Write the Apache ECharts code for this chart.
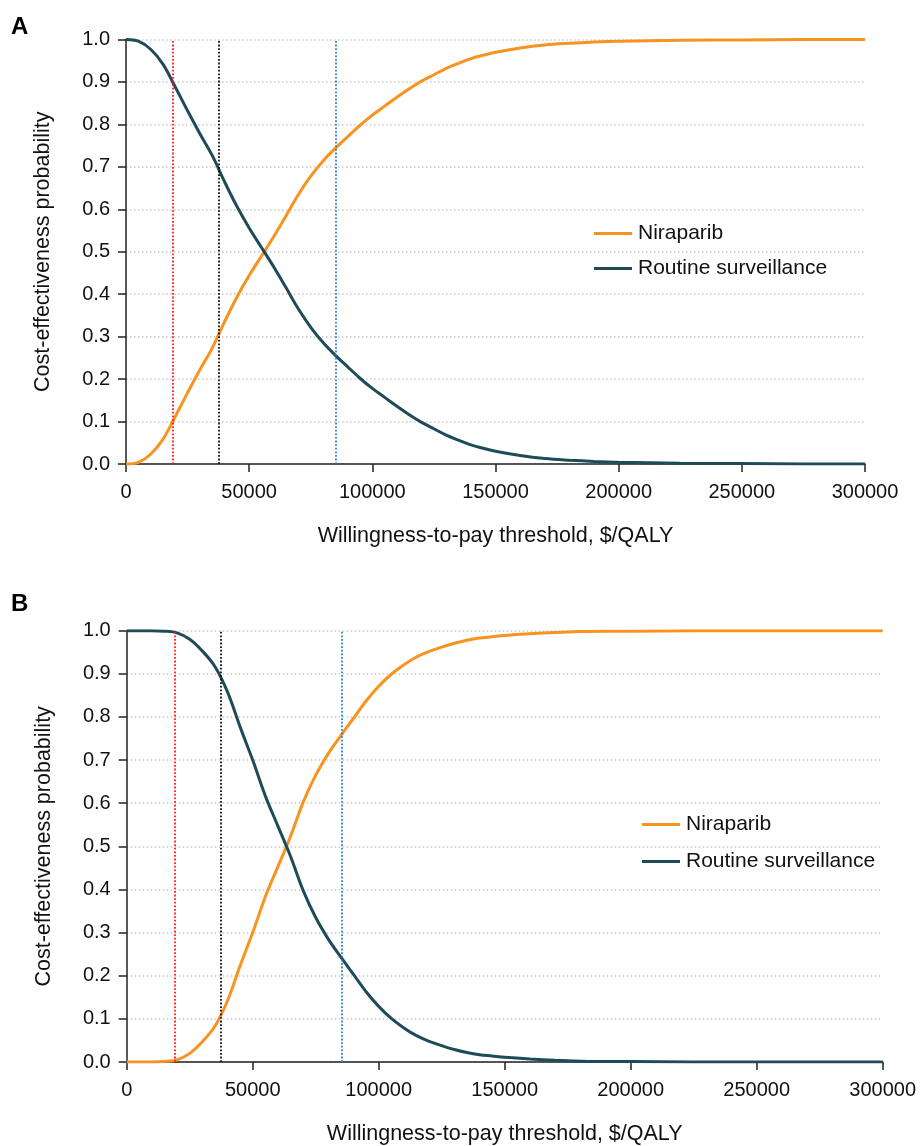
<!DOCTYPE html>
<html>
<head>
<meta charset="utf-8">
<script src="https://cdn.jsdelivr.net/npm/echarts@6/dist/echarts.min.js"></script>
<style>
  html, body { margin: 0; padding: 0; background: #fff; }
  #ceac { width: 921px; height: 1146px; }
</style>
</head>
<body>
<div id="ceac"></div>
<script>
// willingness-to-pay grid ($/QALY)
const wtp = [0, 5000, 10000, 15000, 20000, 25000, 30000, 35000, 40000, 45000,
  50000, 55000, 60000, 65000, 70000, 75000, 80000, 85000, 90000, 95000,
  100000, 105000, 110000, 115000, 120000, 125000, 130000, 135000, 140000, 145000,
  150000, 160000, 170000, 180000, 190000, 200000, 225000, 250000, 275000, 300000];

// panel A
const niraparibA = [0.000, 0.004, 0.023, 0.058, 0.112, 0.168, 0.222, 0.273, 0.335, 0.393,
  0.444, 0.490, 0.536, 0.585, 0.635, 0.678, 0.714, 0.744, 0.771, 0.798,
  0.822, 0.843, 0.864, 0.884, 0.902, 0.917, 0.932, 0.944, 0.955, 0.963,
  0.970, 0.980, 0.987, 0.991, 0.994, 0.996, 0.998, 0.999, 1.000, 1.000];
const routineA = [1.000, 0.996, 0.977, 0.942, 0.888, 0.832, 0.778, 0.727, 0.665, 0.607,
  0.556, 0.510, 0.464, 0.415, 0.365, 0.322, 0.286, 0.256, 0.229, 0.202,
  0.178, 0.157, 0.136, 0.116, 0.098, 0.083, 0.068, 0.056, 0.045, 0.037,
  0.030, 0.020, 0.013, 0.009, 0.006, 0.004, 0.002, 0.001, 0.000, 0.000];

// panel B
const niraparibB = [0.000, 0.000, 0.000, 0.001, 0.005, 0.020, 0.047, 0.083, 0.142, 0.223,
  0.300, 0.383, 0.453, 0.523, 0.602, 0.665, 0.715, 0.757, 0.797, 0.837,
  0.871, 0.899, 0.921, 0.939, 0.952, 0.962, 0.971, 0.978, 0.983, 0.986,
  0.989, 0.993, 0.996, 0.998, 0.999, 0.999, 1.000, 1.000, 1.000, 1.000];
const routineB = [1.000, 1.000, 1.000, 0.999, 0.995, 0.980, 0.953, 0.917, 0.858, 0.777,
  0.700, 0.617, 0.547, 0.477, 0.398, 0.335, 0.285, 0.243, 0.203, 0.163,
  0.129, 0.101, 0.079, 0.061, 0.048, 0.038, 0.029, 0.022, 0.017, 0.014,
  0.011, 0.007, 0.004, 0.002, 0.001, 0.001, 0.000, 0.000, 0.000, 0.000];

// WTP thresholds (vertical dotted lines)
const thresholds = [18900, 37500, 85200];
const thresholdColors = ['#ff1a1a', '#111111', '#2a7fd4'];

const names = ['Niraparib', 'Routine surveillance'];
const colors = ['#f7931e', '#1f4b59'];
const FONT = 'Liberation Sans, Arial, sans-serif';

function pairs(ys) {
  return wtp.map((x, i) => [x, ys[i]]);
}

function xAxisFor(idx) {
  return {
    type: 'value', gridIndex: idx, min: 0, max: 300000, interval: 50000,
    name: 'Willingness-to-pay threshold, $/QALY',
    nameLocation: 'middle', nameGap: 61,
    nameTextStyle: { fontSize: 21.5, color: '#111', fontFamily: FONT },
    axisLine: { lineStyle: { color: '#222', width: 1.5 } },
    axisTick: { length: 8, lineStyle: { color: '#222', width: 1.5 } },
    axisLabel: { fontSize: 20, color: '#111', fontFamily: FONT, margin: 18,
      formatter: v => String(v) },
    splitLine: { show: false }
  };
}

function yAxisFor(idx) {
  return {
    type: 'value', gridIndex: idx, min: 0, max: 1, interval: 0.1,
    name: 'Cost-effectiveness probability',
    nameLocation: 'middle', nameGap: 72, nameRotate: 90,
    nameTextStyle: { fontSize: 21.5, color: '#111', fontFamily: FONT },
    axisLine: { show: true, lineStyle: { color: '#222', width: 1.5 } },
    axisTick: { show: true, length: 8, lineStyle: { color: '#222', width: 1.5 } },
    axisLabel: { fontSize: 20, color: '#111', fontFamily: FONT, margin: 16,
      formatter: v => v.toFixed(1) },
    splitLine: { show: true, lineStyle: { color: '#c8c8c8', width: 1.5, type: [1.5, 2.5] } }
  };
}

function curve(name, idx, ys, color, withLines) {
  const s = {
    name: name, type: 'line', xAxisIndex: idx, yAxisIndex: idx,
    data: pairs(ys), showSymbol: false, symbol: 'none',
    smooth: 0.35,
    lineStyle: { color: color, width: 3 }, itemStyle: { color: color },
    z: 3
  };
  if (withLines) {
    s.markLine = {
      silent: true, symbol: ['none', 'none'], label: { show: false },
      animation: false,
      data: thresholds.map((t, i) => ({
        xAxis: t,
        lineStyle: { color: thresholdColors[i], width: 1.8, type: [1.8, 1.8] }
      }))
    };
  }
  return s;
}

function legendFor(left, top, gap) {
  return {
    orient: 'vertical', left: left, top: top,
    icon: 'rect', itemWidth: 38, itemHeight: 3, itemGap: gap,
    data: names,
    textStyle: { fontSize: 21, color: '#111', fontFamily: FONT, padding: [0, 0, 0, 1] }
  };
}

const chart = echarts.init(document.getElementById('ceac'));
chart.setOption({
  animation: false,
  title: [
    { text: 'A', left: 11, top: 15, padding: 0,
      textStyle: { fontSize: 24, fontWeight: 'bold', color: '#000', fontFamily: FONT } },
    { text: 'B', left: 11, top: 592, padding: 0,
      textStyle: { fontSize: 24, fontWeight: 'bold', color: '#000', fontFamily: FONT } }
  ],
  legend: [legendFor(589, 218, 14), legendFor(637, 809, 16)],
  grid: [
    { left: 126, top: 39.5, width: 739, height: 424.5 },
    { left: 126.7, top: 630.7, width: 756, height: 431.3 }
  ],
  xAxis: [xAxisFor(0), xAxisFor(1)],
  yAxis: [yAxisFor(0), yAxisFor(1)],
  series: [
    curve(names[0], 0, niraparibA, colors[0], false),
    curve(names[1], 0, routineA, colors[1], true),
    curve(names[0], 1, niraparibB, colors[0], false),
    curve(names[1], 1, routineB, colors[1], true)
  ]
});
</script>
</body>
</html>
